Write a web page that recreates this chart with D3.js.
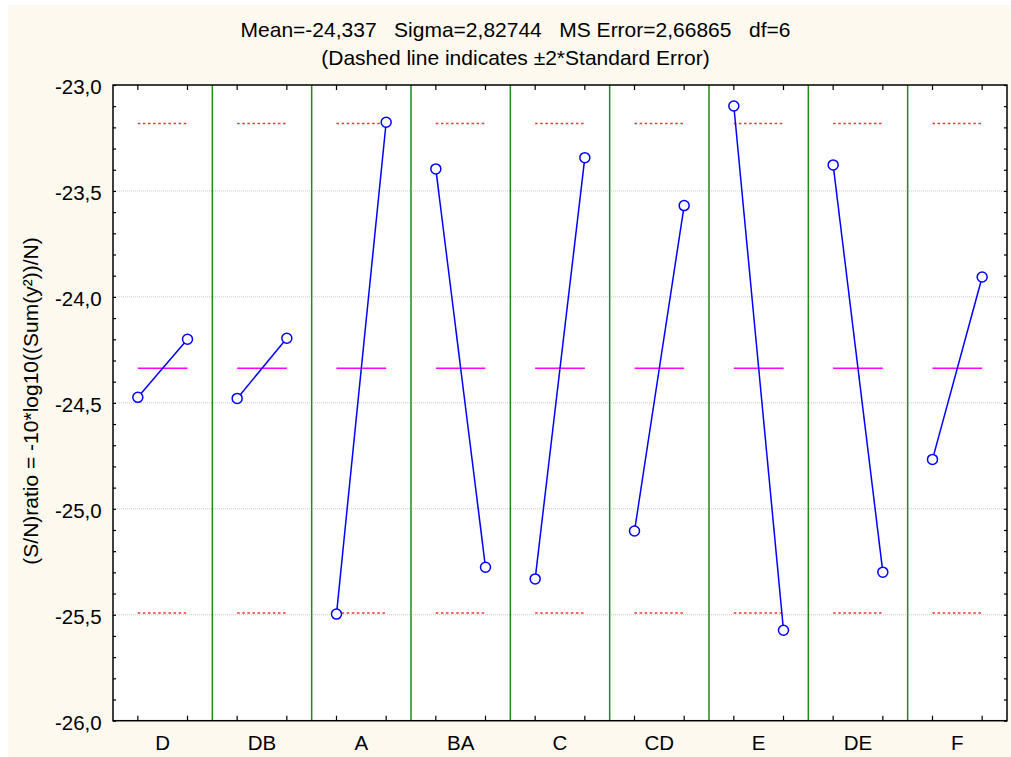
<!DOCTYPE html>
<html>
<head>
<meta charset="utf-8">
<script src="https://cdn.jsdelivr.net/npm/d3@7"></script>
<style>
  body { margin: 0; background: #fff; }
  text { font-family: "Liberation Sans", Arial, sans-serif; fill: #000; }
</style>
</head>
<body>
<div id="chart"></div>
<script>
// Means plot of S/N ratio per factor level
var w = 1011;
var h = 757;

// Data Source
var factors = ['D', 'DB', 'A', 'BA', 'C', 'CD', 'E', 'DE', 'F'];
var level1 = [-24.474, -24.479, -25.497, -23.396, -25.331, -25.105, -23.099, -23.377, -24.767];
var level2 = [-24.200, -24.195, -23.176, -25.276, -23.343, -23.569, -25.573, -25.299, -23.906];
var grandMean = -24.337;
var twoSE = 1.155;
var yTicks = [-26.0, -25.5, -25.0, -24.5, -24.0, -23.5, -23.0];
var titleLines = ['Mean=-24,337   Sigma=2,82744   MS Error=2,66865   df=6',
                  '(Dashed line indicates \u00b12*Standard Error)'];
var yTitle = '(S/N)ratio = -10*log10((Sum(y\u00b2))/N)';

var locale = d3.formatLocale({ decimal: ',', thousands: '.', grouping: [3], currency: ['', ''], minus: '-' });
var fmt = locale.format('.1f');

var m = { left: 113, right: 1007, top: 85, bottom: 720.7 };
var fontF = '"Liberation Sans", Arial, sans-serif';

var svg = d3.select('#chart').append('svg')
	.attr('width', w)
	.attr('height', h);

// background
svg.append('rect')
	.attr('x', 8).attr('y', 5)
	.attr('width', w - 8).attr('height', h - 5)
	.attr('fill', '#fdf9ee');

svg.append('rect')
	.attr('x', m.left).attr('y', m.top)
	.attr('width', m.right - m.left).attr('height', m.bottom - m.top)
	.attr('fill', '#fff');

// scales
var x = d3.scaleBand().domain(factors).range([m.left, m.right]);
var lv = d3.scalePoint().domain([1, 2]).range([0, x.bandwidth()]).padding(0.5);
var y = d3.scaleLinear().domain([-26, -23]).range([m.bottom, m.top]);

var minor = d3.range(0, 31).map(function (i) { return Math.round((-26 + i / 10) * 10) / 10; });

var rows = factors.map(function (f, i) {
	return { f: f, pts: [{ l: 1, v: level1[i] }, { l: 2, v: level2[i] }] };
});
var allPts = [];
rows.forEach(function (r) { r.pts.forEach(function (p) { allPts.push({ f: r.f, l: p.l, v: p.v }); }); });

// grid lines
svg.append('g').selectAll('line')
	.data(yTicks.slice(1, -1))
	.enter().append('line')
	.attr('x1', m.left).attr('x2', m.right)
	.attr('y1', function (d) { return y(d); })
	.attr('y2', function (d) { return y(d); })
	.attr('stroke', '#c8c8c8')
	.attr('stroke-width', 1)
	.attr('stroke-dasharray', '1,1');

// group separators
svg.append('g').selectAll('line')
	.data(factors.slice(1))
	.enter().append('line')
	.attr('x1', function (d) { return x(d); })
	.attr('x2', function (d) { return x(d); })
	.attr('y1', m.top).attr('y2', m.bottom)
	.attr('stroke', '#1f8a1f')
	.attr('stroke-width', 1.5);

// +-2 SE lines
[grandMean + twoSE, grandMean - twoSE].forEach(function (v) {
	svg.append('g').selectAll('line')
		.data(factors)
		.enter().append('line')
		.attr('x1', function (d) { return x(d) + lv(1); })
		.attr('x2', function (d) { return x(d) + lv(2); })
		.attr('y1', y(v)).attr('y2', y(v))
		.attr('stroke', '#ff3030')
		.attr('stroke-width', 1.5)
		.attr('stroke-dasharray', '2.5,2.6');
});

// mean lines
svg.append('g').selectAll('line')
	.data(factors)
	.enter().append('line')
	.attr('x1', function (d) { return x(d) + lv(1); })
	.attr('x2', function (d) { return x(d) + lv(2); })
	.attr('y1', y(grandMean)).attr('y2', y(grandMean))
	.attr('stroke', '#ff00ff')
	.attr('stroke-width', 1.5);

// level lines
var line = d3.line()
	.x(function (d) { return d.x; })
	.y(function (d) { return y(d.v); });

svg.append('g').selectAll('path')
	.data(rows)
	.enter().append('path')
	.attr('d', function (r) {
		return line(r.pts.map(function (p) { return { x: x(r.f) + lv(p.l), v: p.v }; }));
	})
	.attr('fill', 'none')
	.attr('stroke', '#0000ff')
	.attr('stroke-width', 1.5);

svg.append('g').selectAll('circle')
	.data(allPts)
	.enter().append('circle')
	.attr('cx', function (d) { return x(d.f) + lv(d.l); })
	.attr('cy', function (d) { return y(d.v); })
	.attr('r', 5)
	.attr('fill', '#fff')
	.attr('stroke', '#0000ff')
	.attr('stroke-width', 1.5);

// axes
var yLeft = d3.axisLeft(y)
	.tickValues(minor)
	.tickSize(-3)
	.tickPadding(11.3)
	.tickFormat(function (d) { return yTicks.indexOf(d) >= 0 ? fmt(d) : ''; });

var gL = svg.append('g')
	.attr('transform', 'translate(' + m.left + ',0)')
	.call(yLeft);
gL.select('.domain').remove();
gL.selectAll('.tick line').attr('stroke', '#000').attr('stroke-width', 1.2);
gL.selectAll('text').attr('font-size', 20.5).attr('font-family', fontF).attr('dy', '0.43em');

var gR = svg.append('g')
	.attr('transform', 'translate(' + m.right + ',0)')
	.call(d3.axisRight(y).tickValues(minor).tickSize(-3).tickFormat(''));
gR.select('.domain').remove();
gR.selectAll('.tick line').attr('stroke', '#000').attr('stroke-width', 1.2);

var gB = svg.append('g')
	.attr('transform', 'translate(0,' + m.bottom + ')')
	.call(d3.axisBottom(x).tickSize(0).tickPadding(14.7));
gB.select('.domain').remove();
gB.selectAll('text').attr('font-size', 20.5).attr('font-family', fontF);

// point ticks on top and bottom
[[m.bottom, -5], [m.top, 5]].forEach(function (t) {
	svg.append('g').selectAll('line')
		.data(allPts)
		.enter().append('line')
		.attr('x1', function (d) { return x(d.f) + lv(d.l); })
		.attr('x2', function (d) { return x(d.f) + lv(d.l); })
		.attr('y1', t[0]).attr('y2', t[0] + t[1])
		.attr('stroke', '#000')
		.attr('stroke-width', 1.2);
});

// frame
svg.append('rect')
	.attr('x', m.left).attr('y', m.top)
	.attr('width', m.right - m.left).attr('height', m.bottom - m.top)
	.attr('fill', 'none')
	.attr('stroke', '#000')
	.attr('stroke-width', 1.5);

// titles
svg.selectAll('.title')
	.data(titleLines)
	.enter().append('text')
	.attr('class', 'title')
	.attr('x', 515.5)
	.attr('y', function (d, i) { return 37 + i * 28; })
	.attr('text-anchor', 'middle')
	.attr('font-size', 21)
	.style('white-space', 'pre')
	.text(function (d) { return d; });

svg.append('text')
	.attr('transform', 'translate(37.5,' + 401 + ') rotate(-90)')
	.attr('text-anchor', 'middle')
	.attr('font-size', 21)
	.text(yTitle);
</script>
</body>
</html>
